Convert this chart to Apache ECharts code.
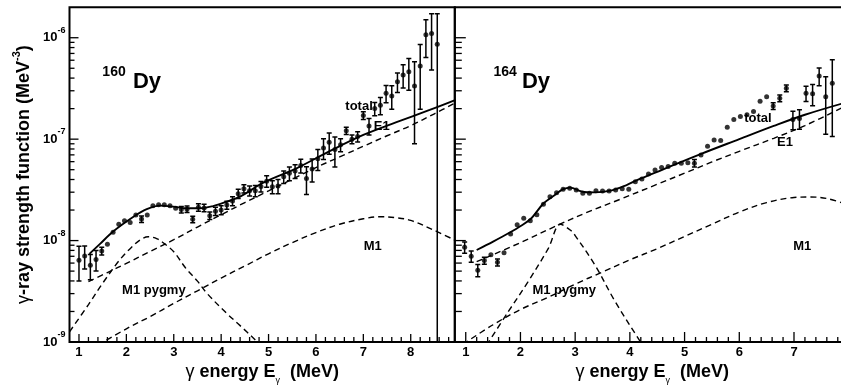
<!DOCTYPE html>
<html>
<head>
<meta charset="utf-8">
<title>Dy gamma-ray strength functions</title>
<script src="https://cdn.jsdelivr.net/npm/echarts@6.0.0/dist/echarts.min.js"></script>
<style>
  html, body { margin: 0; padding: 0; background: #fff; }
  #chart { width: 841px; height: 387px; }
</style>
</head>
<body>
<div id="chart"></div>
<script>
// ---------- 160Dy: measured gamma-ray strength function (MeV^-3) ----------
const dy160Energy = [
  1.00, 1.12, 1.24, 1.36, 1.48, 1.60, 1.72, 1.84, 1.96, 2.08, 2.20, 2.32, 2.44, 2.56, 2.68, 2.80,
  2.92, 3.04, 3.16, 3.28, 3.40, 3.52, 3.64, 3.76, 3.88, 4.00, 4.12, 4.24, 4.36, 4.48, 4.60, 4.72,
  4.84, 4.96, 5.08, 5.20, 5.32, 5.44, 5.56, 5.68, 5.80, 5.92, 6.04, 6.16, 6.28, 6.40, 6.52, 6.64,
  6.76, 6.88, 7.00, 7.12, 7.24, 7.36, 7.48, 7.60, 7.72, 7.84, 7.96, 8.08, 8.20, 8.32, 8.44, 8.56
];
const dy160Strength = [
  6.4e-9, 7.05e-9, 5.7e-9, 6.5e-9, 7.9e-9, 9.2e-9, 1.21e-8, 1.45e-8, 1.57e-8, 1.51e-8, 1.79e-8, 1.63e-8, 1.79e-8, 2.21e-8, 2.26e-8, 2.26e-8,
  2.21e-8, 2.08e-8, 2.02e-8, 2.04e-8, 1.62e-8, 2.13e-8, 2.1e-8, 1.76e-8, 1.95e-8, 2.0e-8, 2.24e-8, 2.46e-8, 2.9e-8, 3.25e-8, 3.1e-8, 3.1e-8,
  3.42e-8, 3.85e-8, 3.4e-8, 3.45e-8, 4.25e-8, 4.6e-8, 4.85e-8, 5.5e-8, 4.1e-8, 5.07e-8, 6.4e-8, 8.2e-8, 9.3e-8, 7.9e-8, 8.8e-8, 1.21e-7,
  1.0e-7, 1.06e-7, 1.71e-7, 1.35e-7, 2.0e-7, 2.16e-7, 2.84e-7, 2.67e-7, 3.69e-7, 4.3e-7, 4.63e-7, 3.35e-7, 5.27e-7, 1.07e-6, 1.1e-6, 8.6e-7
];
const dy160Error = [
  2.4e-9, 1.8e-9, 1.6e-9, 1.5e-9, 0.7e-9, 0.6e-9, 0.8e-9, 0.4e-9, 0.4e-9, 0.8e-9, 1.0e-9, 1.2e-9, 1.0e-9, 1.0e-9, 1.2e-9, 1.2e-9,
  1.2e-9, 1.2e-9, 1.5e-9, 1.5e-9, 1.2e-9, 1.8e-9, 1.8e-9, 1.5e-9, 1.8e-9, 2.0e-9, 2.0e-9, 2.5e-9, 3.0e-9, 3.0e-9, 3.5e-9, 4.0e-9,
  4.0e-9, 5.0e-9, 5.0e-9, 5.5e-9, 6.0e-9, 7.0e-9, 7.5e-9, 8.5e-9, 1.25e-8, 1.3e-8, 1.5e-8, 1.9e-8, 2.2e-8, 2.6e-8, 1.3e-8, 1.0e-8,
  1.0e-8, 1.2e-8, 1.5e-8, 2.5e-8, 3.0e-8, 4.2e-8, 5.5e-8, 7.0e-8, 8.0e-8, 1.1e-7, 1.6e-7, 2.45e-7, 3.3e-7, 4.3e-7, 6.2e-7, 8.6e-7
];

// ---------- 160Dy: model components ----------
const dy160TotalEnergy = [1.22, 1.45, 1.72, 2.15, 2.43, 2.71, 2.99, 3.27, 3.55, 3.83, 4.12, 4.40, 4.89, 5.59, 6.30, 7.00, 7.70, 8.40, 8.95];
const dy160TotalStrength = [7.4e-9, 9.33e-9, 1.23e-8, 1.72e-8, 2.04e-8, 2.21e-8, 2.16e-8, 2.08e-8, 2.08e-8, 2.19e-8, 2.42e-8, 2.71e-8, 3.72e-8, 5.16e-8, 7.65e-8, 1.10e-7, 1.47e-7, 1.94e-7, 2.44e-7];
const dy160E1Energy = [1.2, 1.6, 2.0, 2.5, 3.0, 3.5, 4.0, 4.5, 5.0, 5.5, 6.0, 6.5, 7.0, 7.5, 8.0, 8.5, 8.95];
const dy160E1Strength = [3.94e-9, 4.84e-9, 5.96e-9, 7.8e-9, 1.02e-8, 1.36e-8, 1.8e-8, 2.37e-8, 3.09e-8, 4.03e-8, 5.25e-8, 6.68e-8, 8.51e-8, 1.08e-7, 1.36e-7, 1.78e-7, 2.29e-7];
const dy160M1Energy = [1.4, 2.0, 2.5, 3.0, 3.5, 4.0, 4.5, 5.0, 5.5, 6.0, 6.5, 7.0, 7.35, 7.7, 8.0, 8.5, 8.95];
const dy160M1Strength = [9.3e-10, 1.35e-9, 1.78e-9, 2.4e-9, 3.2e-9, 4.27e-9, 5.62e-9, 7.41e-9, 9.55e-9, 1.2e-8, 1.45e-8, 1.64e-8, 1.72e-8, 1.68e-8, 1.58e-8, 1.26e-8, 1.0e-8];
const dy160PygmyEnergy = [0.8, 1.2, 1.5, 1.86, 2.1, 2.3, 2.46, 2.65, 2.8, 3.0, 3.25, 3.5, 3.7, 4.1, 4.4, 4.7, 4.85];
const dy160PygmyStrength = [1.26e-9, 2.34e-9, 3.8e-9, 6.46e-9, 8.51e-9, 1.02e-8, 1.09e-8, 1.04e-8, 9.33e-9, 7.76e-9, 5.37e-9, 3.98e-9, 3.02e-9, 1.95e-9, 1.45e-9, 1.07e-9, 9.1e-10];

// ---------- 164Dy: measured gamma-ray strength function (MeV^-3) ----------
const dy164Energy = [
  0.98, 1.10, 1.22, 1.34, 1.46, 1.58, 1.70, 1.82, 1.94, 2.06, 2.18, 2.30, 2.42, 2.54, 2.66, 2.78,
  2.90, 3.02, 3.14, 3.26, 3.38, 3.50, 3.62, 3.74, 3.86, 3.98, 4.10, 4.22, 4.34, 4.46, 4.58, 4.70,
  4.82, 4.94, 5.06, 5.18, 5.30, 5.42, 5.54, 5.66, 5.78, 5.90, 6.02, 6.14, 6.26, 6.38, 6.50, 6.62,
  6.74, 6.86, 6.98, 7.10, 7.22, 7.34, 7.46, 7.58, 7.70
];
const dy164Strength = [
  8.6e-9, 7.0e-9, 5.1e-9, 6.35e-9, 7.25e-9, 6.1e-9, 7.6e-9, 1.16e-8, 1.43e-8, 1.66e-8, 1.57e-8, 1.8e-8, 2.28e-8, 2.71e-8, 2.97e-8, 3.21e-8,
  3.28e-8, 3.16e-8, 2.93e-8, 2.93e-8, 3.1e-8, 3.09e-8, 3.09e-8, 3.16e-8, 3.25e-8, 3.2e-8, 3.81e-8, 4.05e-8, 4.54e-8, 4.97e-8, 5.24e-8, 5.36e-8,
  5.79e-8, 5.79e-8, 5.86e-8, 5.8e-8, 6.98e-8, 8.5e-8, 9.8e-8, 9.7e-8, 1.31e-7, 1.56e-7, 1.67e-7, 1.74e-7, 1.87e-7, 2.37e-7, 2.62e-7, 2.12e-7,
  2.53e-7, 3.18e-7, 1.56e-7, 1.6e-7, 2.84e-7, 2.8e-7, 4.2e-7, 2.62e-7, 3.56e-7
];
const dy164Error = [
  1.1e-9, 0.9e-9, 0.7e-9, 0.5e-9, 0.45e-9, 0.5e-9, 0.45e-9, 0.2e-9, 0.2e-9, 0.3e-9, 0.3e-9, 0.3e-9, 0.3e-9, 0.3e-9, 0.3e-9, 0.3e-9,
  0.3e-9, 0.3e-9, 0.3e-9, 0.3e-9, 0.3e-9, 0.3e-9, 0.3e-9, 0.3e-9, 0.4e-9, 2.0e-9, 0.5e-9, 0.5e-9, 0.5e-9, 0.5e-9, 0.5e-9, 0.5e-9,
  0.6e-9, 0.6e-9, 0.6e-9, 5.0e-9, 4.5e-9, 5.5e-9, 6.0e-9, 6.0e-9, 8.0e-9, 9.0e-9, 1.0e-8, 1.0e-8, 1.1e-8, 1.5e-8, 1.6e-8, 1.6e-8,
  1.9e-8, 2.4e-8, 3.2e-8, 3.5e-8, 4.9e-8, 6.6e-8, 8.4e-8, 1.5e-7, 2.5e-7
];

// ---------- 164Dy: model components ----------
const dy164TotalEnergy = [1.2, 1.5, 1.78, 2.02, 2.2, 2.42, 2.63, 2.78, 2.91, 3.12, 3.36, 3.67, 3.94, 4.13, 4.6, 5.28, 6.0, 6.63, 7.2, 7.9];
const dy164TotalStrength = [8.07e-9, 9.77e-9, 1.18e-8, 1.41e-8, 1.66e-8, 2.32e-8, 2.82e-8, 3.21e-8, 3.33e-8, 3.05e-8, 2.99e-8, 3.13e-8, 3.53e-8, 3.94e-8, 5.01e-8, 7.08e-8, 1.0e-7, 1.35e-7, 1.74e-7, 2.26e-7];
const dy164E1Energy = [1.2, 2.0, 2.66, 3.2, 3.82, 4.5, 5.0, 5.5, 6.0, 6.63, 7.2, 7.9];
const dy164E1Strength = [6.19e-9, 9.55e-9, 1.4e-8, 1.88e-8, 2.55e-8, 3.59e-8, 4.62e-8, 5.96e-8, 7.59e-8, 1.02e-7, 1.36e-7, 2.07e-7];
const dy164M1Energy = [0.95, 1.5, 2.0, 2.5, 3.0, 3.5, 4.0, 4.5, 5.0, 5.5, 6.0, 6.5, 7.0, 7.3, 7.6, 7.9];
const dy164M1Strength = [9.5e-10, 1.48e-9, 2.09e-9, 2.75e-9, 3.72e-9, 4.9e-9, 6.46e-9, 8.32e-9, 1.1e-8, 1.45e-8, 1.91e-8, 2.37e-8, 2.66e-8, 2.69e-8, 2.6e-8, 2.34e-8];
const dy164PygmyEnergy = [1.38, 1.78, 2.14, 2.51, 2.73, 2.91, 3.0, 3.36, 3.73, 4.15, 4.25];
const dy164PygmyStrength = [9.3e-10, 2.0e-9, 3.94e-9, 8.39e-9, 1.45e-8, 1.27e-8, 1.12e-8, 5.75e-9, 2.51e-9, 1.09e-9, 9.1e-10];

// ---------- axes ----------
const Y_MIN = 1e-9, Y_MAX = 2e-6;
const X_MIN = 0.8, X_MAX_160 = 8.93, X_MAX_164 = 8.02;
const xMajorTicks160 = [1, 2, 3, 4, 5, 6, 7, 8];
const xMajorTicks164 = [1, 2, 3, 4, 5, 6, 7, 8];
const yMajorTicks = [1e-9, 1e-8, 1e-7, 1e-6];
const yMinorFactors = [2, 3, 4, 5, 6, 7, 8, 9];

// text annotations placed in data coordinates
const notes160 = [
  { text: '160', at: [1.74, 4.59e-7], size: 14 },
  { text: 'Dy', at: [2.435, 3.66e-7], size: 22 },
  { text: 'total', at: [6.91, 2.12e-7], size: 13 },
  { text: 'E1', at: [7.39, 1.35e-7], size: 13 },
  { text: 'M1', at: [7.20, 8.83e-9], size: 13 },
  { text: 'M1 pygmy', at: [2.58, 3.26e-9], size: 13 }
];
const notes164 = [
  { text: '164', at: [1.72, 4.59e-7], size: 14 },
  { text: 'Dy', at: [2.285, 3.66e-7], size: 22 },
  { text: 'total', at: [6.34, 1.61e-7], size: 13 },
  { text: 'E1', at: [6.835, 9.38e-8], size: 13 },
  { text: 'M1', at: [7.15, 8.83e-9], size: 13 },
  { text: 'M1 pygmy', at: [2.80, 3.26e-9], size: 13 }
];

const FONT = '"Liberation Sans", Arial, Helvetica, sans-serif';
const zip = (xs, ys) => xs.map((x, i) => [x, ys[i]]);
const zip3 = (xs, ys, es) => xs.map((x, i) => [x, ys[i], es[i]]);

function minorXTicks(max) {
  const out = [];
  for (let k = 5; k * 0.2 < max + 1e-9; k++) {
    if (k % 5 !== 0) out.push(+(k * 0.2).toFixed(1));
  }
  return out;
}
function minorYTicks() {
  const out = [];
  for (let e = -9; e <= -6; e++) {
    yMinorFactors.forEach(f => {
      const v = f * Math.pow(10, e);
      if (v < Y_MAX * 0.999) out.push(v);
    });
  }
  return out;
}

function tickSeries(gi, data, dx, dy, width) {
  return {
    type: 'custom', xAxisIndex: gi, yAxisIndex: gi, silent: true, z: 6,
    data,
    renderItem(params, api) {
      const p = api.coord([api.value(0), api.value(1)]);
      return {
        type: 'line',
        shape: { x1: p[0], y1: p[1], x2: p[0] + dx, y2: p[1] + dy },
        style: { stroke: '#000', lineWidth: width || 1.3 }
      };
    }
  };
}

function errorBarSeries(gi, es, fs, ds) {
  return {
    type: 'custom', xAxisIndex: gi, yAxisIndex: gi, silent: true, clip: true, z: 3,
    data: zip3(es, fs, ds),
    renderItem(params, api) {
      const e = api.value(0), f = api.value(1), d = api.value(2);
      const hi = api.coord([e, f + d]);
      const lo = api.coord([e, Math.max(f - d, 1e-12)]);
      const children = [];
      if (lo[1] - hi[1] > 6) {
        const st = { stroke: '#000', lineWidth: 1.5 };
        children.push({ type: 'line', shape: { x1: hi[0], y1: hi[1], x2: lo[0], y2: lo[1] }, style: st });
        children.push({ type: 'line', shape: { x1: hi[0] - 2.5, y1: hi[1], x2: hi[0] + 2.5, y2: hi[1] }, style: st });
        children.push({ type: 'line', shape: { x1: lo[0] - 2.5, y1: lo[1], x2: lo[0] + 2.5, y2: lo[1] }, style: st });
      }
      return { type: 'group', children };
    }
  };
}

function pointSeries(gi, es, fs) {
  return {
    type: 'scatter', xAxisIndex: gi, yAxisIndex: gi, silent: true, z: 4,
    data: zip(es, fs), symbol: 'circle', symbolSize: 5,
    itemStyle: { color: '#000' }
  };
}

function curveSeries(gi, es, fs, dashed) {
  return {
    type: 'line', xAxisIndex: gi, yAxisIndex: gi, silent: true, z: 2,
    data: zip(es, fs), symbol: 'none', showSymbol: false, smooth: 0.35, clip: true,
    lineStyle: { color: '#000', width: dashed ? 1.4 : 1.9, type: dashed ? [6, 4] : 'solid' }
  };
}

function noteSeries(gi, notes) {
  return {
    type: 'custom', xAxisIndex: gi, yAxisIndex: gi, silent: true, z: 7,
    data: notes.map(n => n.at),
    renderItem(params, api) {
      const n = notes[params.dataIndex];
      const p = api.coord([api.value(0), api.value(1)]);
      return {
        type: 'text', x: p[0], y: p[1],
        style: {
          text: n.text, fill: '#000', align: 'center', verticalAlign: 'middle',
          font: 'bold ' + n.size + 'px ' + FONT
        }
      };
    }
  };
}

function integerLabel(v) {
  const r = Math.round(v);
  return Math.abs(v - r) < 1e-6 ? String(r) : '';
}
function powerLabel(v) {
  const l = Math.log10(v);
  const r = Math.round(l);
  return Math.abs(l - r) < 1e-6 ? '{b|10}{s|' + r + '}' : '';
}

const xTitle = '{g|γ} energy E{u|γ}  (MeV)';
const xTitleStyle = {
  fontFamily: FONT, fontWeight: 'bold', fontSize: 18, color: '#000', lineHeight: 26,
  rich: {
    g: { fontFamily: FONT, fontWeight: 'normal', fontSize: 18, lineHeight: 26 },
    u: { fontFamily: FONT, fontWeight: 'normal', fontSize: 9, lineHeight: 6, verticalAlign: 'bottom' }
  }
};

function xAxisFor(gi, max) {
  return {
    gridIndex: gi, type: 'value', min: X_MIN, max: max, interval: 0.2,
    axisLine: { show: false }, axisTick: { show: false }, splitLine: { show: false },
    axisLabel: {
      formatter: integerLabel, fontFamily: FONT, fontWeight: 'bold', fontSize: 13,
      color: '#000', margin: 4, showMinLabel: false, showMaxLabel: false
    },
    name: xTitle, nameLocation: 'middle', nameGap: 17, nameMoveOverlap: false,
    nameTextStyle: xTitleStyle
  };
}

function yAxisFor(gi, withLabels) {
  return {
    gridIndex: gi, type: 'log', logBase: 10, min: Y_MIN, max: Y_MAX,
    axisLine: { show: false }, axisTick: { show: false }, splitLine: { show: false },
    minorTick: { show: false },
    axisLabel: {
      show: withLabels, formatter: powerLabel, margin: 4, color: '#000',
      fontFamily: FONT, fontWeight: 'bold', fontSize: 13,
      rich: {
        b: { fontFamily: FONT, fontWeight: 'bold', fontSize: 13, lineHeight: 24 },
        s: { fontFamily: FONT, fontWeight: 'bold', fontSize: 9, lineHeight: 10, verticalAlign: 'top' }
      }
    },
    name: withLabels ? '{g|γ}-ray strength function (MeV{s|-3})' : '',
    nameLocation: 'middle', nameGap: 32, nameMoveOverlap: false,
    nameTextStyle: {
      fontFamily: FONT, fontWeight: 'bold', fontSize: 18, color: '#000', lineHeight: 26,
      rich: {
        g: { fontFamily: FONT, fontWeight: 'normal', fontSize: 18, lineHeight: 26 },
        s: { fontFamily: FONT, fontWeight: 'bold', fontSize: 11, lineHeight: 8, verticalAlign: 'top' }
      }
    }
  };
}

const gridBase = { top: 7.2, height: 334.8, show: true, borderColor: '#000', borderWidth: 2, backgroundColor: 'transparent', containLabel: false, outerBoundsMode: 'none' };

const minorY = minorYTicks();
const panels = [
  { xMax: X_MAX_160, majorX: xMajorTicks160, xTickLen: [8, 5], yTickLen: [9, 5] },
  { xMax: X_MAX_164, majorX: xMajorTicks164, xTickLen: [10, 5], yTickLen: [11, 7] }
];

const series = [];
panels.forEach((pn, gi) => {
  series.push(tickSeries(gi, pn.majorX.map(v => [v, Y_MIN]), 0, -pn.xTickLen[0]));
  series.push(tickSeries(gi, minorXTicks(pn.xMax).map(v => [v, Y_MIN]), 0, -pn.xTickLen[1]));
  series.push(tickSeries(gi, yMajorTicks.map(v => [X_MIN, v]), pn.yTickLen[0], 0));
  series.push(tickSeries(gi, minorY.map(v => [X_MIN, v]), pn.yTickLen[1], 0));
});

series.push(
  curveSeries(0, dy160E1Energy, dy160E1Strength, true),
  curveSeries(0, dy160M1Energy, dy160M1Strength, true),
  curveSeries(0, dy160PygmyEnergy, dy160PygmyStrength, true),
  curveSeries(0, dy160TotalEnergy, dy160TotalStrength, false),
  errorBarSeries(0, dy160Energy, dy160Strength, dy160Error),
  pointSeries(0, dy160Energy, dy160Strength),
  noteSeries(0, notes160),

  curveSeries(1, dy164E1Energy, dy164E1Strength, true),
  curveSeries(1, dy164M1Energy, dy164M1Strength, true),
  curveSeries(1, dy164PygmyEnergy, dy164PygmyStrength, true),
  curveSeries(1, dy164TotalEnergy, dy164TotalStrength, false),
  errorBarSeries(1, dy164Energy, dy164Strength, dy164Error),
  pointSeries(1, dy164Energy, dy164Strength),
  noteSeries(1, notes164)
);

const chart = echarts.init(document.getElementById('chart'), null, { renderer: 'canvas' });
chart.setOption({
  animation: false,
  backgroundColor: '#fff',
  grid: [
    Object.assign({ left: 69.5, width: 385.3 }, gridBase),
    Object.assign({ left: 454.8, width: 395 }, gridBase)
  ],
  xAxis: [xAxisFor(0, X_MAX_160), xAxisFor(1, X_MAX_164)],
  yAxis: [yAxisFor(0, true), yAxisFor(1, false)],
  series
});
</script>
</body>
</html>
